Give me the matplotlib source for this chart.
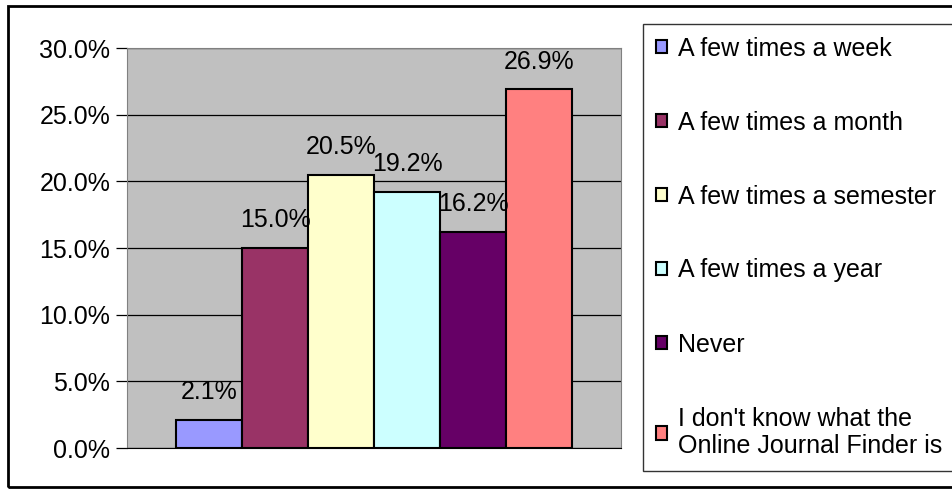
import matplotlib.pyplot as plt
from matplotlib.patches import Rectangle

plt.rcParams["font.family"] = ["Liberation Sans", "DejaVu Sans"]

# survey answers: how often the Online Journal Finder is used
labels = [
    "A few times a week",
    "A few times a month",
    "A few times a semester",
    "A few times a year",
    "Never",
    "I don't know what the\nOnline Journal Finder is",
]
values = [2.1, 15.0, 20.5, 19.2, 16.2, 26.9]
colors = ["#9999FF", "#993366", "#FFFFCC", "#CCFFFF", "#660066", "#FF8080"]
yticks = [0, 5, 10, 15, 20, 25, 30]

FS = 18

fig = plt.figure(figsize=(9.52, 4.91), dpi=100)
ax = fig.add_axes([127 / 952, 43 / 491, 494 / 952, 400 / 491])
ax.set_facecolor("#C0C0C0")

bar_w = 66 / 494
x0 = 0.5 - 3 * bar_w
handles = []
for i, (lab, v, c) in enumerate(zip(labels, values, colors)):
    b = ax.bar(x0 + (i + 0.5) * bar_w, v, width=bar_w, color=c,
               edgecolor="black", linewidth=1.5, label=lab, zorder=3)
    handles.append(b)
    ax.annotate(f"{v:.1f}%", (x0 + (i + 0.5) * bar_w, v), xytext=(0, 20),
                textcoords="offset points", ha="center", va="center",
                fontsize=FS, zorder=4)

ax.set_xlim(0, 1)
ax.set_ylim(0, 30)
ax.set_yticks(yticks)
ax.set_yticklabels([f"{t:.1f}%" for t in yticks], fontsize=FS)
ax.set_xticks([])
ax.yaxis.grid(True, color="black", linewidth=0.9, zorder=0)
ax.tick_params(axis="y", length=8, width=0.9, direction="out", pad=4)
for s in ["top", "right", "left"]:
    ax.spines[s].set_color("#808080")
ax.spines["bottom"].set_color("black")

# legend box runs off the right edge like the original
leg = fig.legend(handles=handles, labels=labels, loc="upper left",
                 bbox_to_anchor=(643 / 952, 1 - 24 / 491, 330 / 952, 0),
                 mode="expand", fontsize=FS,
                 frameon=True, fancybox=False, edgecolor="black",
                 handlelength=0.45, handleheight=0.45, handletextpad=0.45,
                 labelspacing=2.0, borderpad=0.5, borderaxespad=0)
leg.get_frame().set_linewidth(1.0)

fig.patches.append(Rectangle((8 / 952, 4 / 491), 1.0, 1 - 10 / 491,
                             transform=fig.transFigure, fill=False,
                             edgecolor="black", linewidth=2))

fig.savefig("out.png", dpi=100)
